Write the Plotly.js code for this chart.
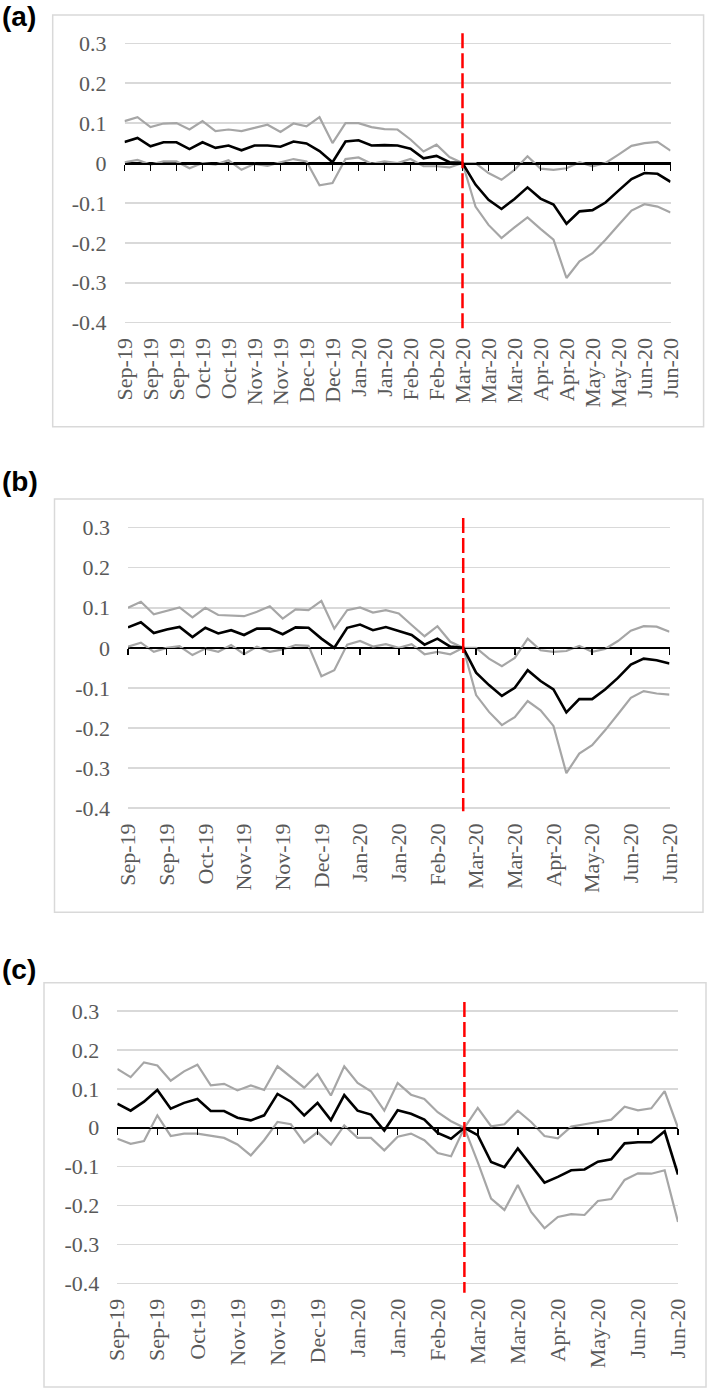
<!DOCTYPE html>
<html>
<head>
<meta charset="utf-8">
<script src="https://cdn.plot.ly/plotly-3.0.1.min.js"></script>
<style>
  html, body { margin: 0; padding: 0; background: #fff; }
  #chart { width: 709px; height: 1389px; }
</style>
</head>
<body>
<div id="chart"></div>
<script>
// Etiquetas del eje x: una cada 2 semanas en (a), cada 3 semanas en (b) y (c)
const labelsA = ['Sep-19', 'Sep-19', 'Sep-19', 'Oct-19', 'Oct-19', 'Nov-19', 'Nov-19', 'Dec-19', 'Dec-19',
    'Jan-20', 'Jan-20', 'Feb-20', 'Feb-20', 'Mar-20', 'Mar-20', 'Mar-20', 'Apr-20', 'Apr-20',
    'May-20', 'May-20', 'Jun-20', 'Jun-20'];
const labelsBC = ['Sep-19', 'Sep-19', 'Oct-19', 'Nov-19', 'Nov-19', 'Dec-19', 'Jan-20', 'Jan-20',
    'Feb-20', 'Mar-20', 'Mar-20', 'Apr-20', 'May-20', 'Jun-20', 'Jun-20'];

const yTicks = [0.3, 0.2, 0.1, 0, -0.1, -0.2, -0.3, -0.4];
const yTickText = ['0.3', '0.2', '0.1', '0', '-0.1', '-0.2', '-0.3', '-0.4'];

// Semana de la línea roja (marzo 2020)
const breakWeek = 26;

// (a) estimación y bandas
const aMid = [0.053, 0.063, 0.042, 0.052, 0.052, 0.035, 0.052, 0.038, 0.044, 0.032,
    0.044, 0.044, 0.041, 0.054, 0.049, 0.030, 0.002, 0.054, 0.057, 0.044,
    0.045, 0.044, 0.036, 0.012, 0.018, 0.002, 0,
    -0.054, -0.092, -0.115, -0.090, -0.061, -0.089, -0.104, -0.152,
    -0.121, -0.118, -0.099, -0.069, -0.040, -0.025, -0.027, -0.047];
const aUpper = [0.105, 0.115, 0.090, 0.099, 0.100, 0.084, 0.105, 0.080, 0.084, 0.080,
    0.088, 0.096, 0.078, 0.099, 0.092, 0.115, 0.050, 0.100, 0.100, 0.090,
    0.085, 0.084, 0.059, 0.029, 0.046, 0.015, 0,
    0, -0.025, -0.042, -0.017, 0.017, -0.014, -0.017, -0.013,
    0.002, -0.008, 0, 0.021, 0.043, 0.050, 0.053, 0.031];
const aLower = [0.002, 0.008, -0.004, 0.004, 0.004, -0.013, 0, -0.004, 0.007, -0.017,
    -0.002, -0.007, 0.002, 0.010, 0.004, -0.056, -0.050, 0.010, 0.014, -0.002,
    0.004, 0, 0.010, -0.008, -0.008, -0.011, 0,
    -0.109, -0.155, -0.188, -0.161, -0.136, -0.165, -0.192, -0.288,
    -0.246, -0.226, -0.192, -0.155, -0.119, -0.103, -0.109, -0.124];

// (b)
const bMid = [0.051, 0.064, 0.037, 0.046, 0.052, 0.027, 0.050, 0.036, 0.044, 0.032,
    0.048, 0.048, 0.034, 0.051, 0.050, 0.023, 0, 0.050, 0.058, 0.044,
    0.052, 0.042, 0.032, 0.008, 0.023, 0.003, 0,
    -0.062, -0.093, -0.120, -0.100, -0.056, -0.083, -0.104, -0.161,
    -0.128, -0.128, -0.104, -0.075, -0.042, -0.027, -0.031, -0.039];
const bUpper = [0.100, 0.115, 0.084, 0.093, 0.101, 0.076, 0.100, 0.082, 0.080, 0.079,
    0.090, 0.104, 0.073, 0.096, 0.094, 0.117, 0.048, 0.094, 0.101, 0.088,
    0.094, 0.086, 0.057, 0.029, 0.054, 0.015, 0,
    0, -0.027, -0.046, -0.025, 0.023, -0.006, -0.010, -0.008,
    0.005, -0.010, -0.003, 0.017, 0.043, 0.054, 0.053, 0.040];
const bLower = [0.003, 0.013, -0.010, 0, 0.004, -0.018, -0.002, -0.010, 0.007, -0.016,
    0.003, -0.010, -0.004, 0.007, 0.005, -0.071, -0.056, 0.008, 0.017, 0.003,
    0.009, 0, 0.009, -0.016, -0.010, -0.016, 0,
    -0.118, -0.160, -0.193, -0.173, -0.133, -0.156, -0.195, -0.313,
    -0.264, -0.243, -0.206, -0.166, -0.125, -0.108, -0.114, -0.117];

// (c)
const cMid = [0.062, 0.044, 0.067, 0.097, 0.049, 0.064, 0.074, 0.043, 0.043, 0.026,
    0.019, 0.032, 0.087, 0.067, 0.032, 0.064, 0.020, 0.084, 0.044, 0.034,
    -0.007, 0.045, 0.036, 0.021, -0.013, -0.028, 0,
    -0.019, -0.088, -0.101, -0.053, -0.098, -0.141, -0.126, -0.109,
    -0.107, -0.087, -0.081, -0.040, -0.037, -0.037, -0.009, -0.120];
const cUpper = [0.151, 0.130, 0.168, 0.160, 0.121, 0.145, 0.162, 0.109, 0.113, 0.096,
    0.109, 0.097, 0.158, 0.130, 0.103, 0.138, 0.083, 0.158, 0.115, 0.094,
    0.044, 0.115, 0.085, 0.074, 0.040, 0.017, 0,
    0.051, 0.004, 0.009, 0.044, 0.015, -0.021, -0.027, 0.003,
    0.009, 0.015, 0.021, 0.054, 0.045, 0.050, 0.094, 0];
const cLower = [-0.028, -0.041, -0.034, 0.032, -0.021, -0.015, -0.015, -0.020, -0.026, -0.043,
    -0.071, -0.032, 0.015, 0.009, -0.038, -0.011, -0.043, 0.006, -0.026, -0.026,
    -0.058, -0.023, -0.015, -0.032, -0.065, -0.073, 0,
    -0.088, -0.182, -0.211, -0.147, -0.216, -0.258, -0.229, -0.222,
    -0.224, -0.188, -0.183, -0.134, -0.117, -0.118, -0.109, -0.242];

const W = 709, H = 1389;
const yRange = [-0.425, 0.33];

// Geometría de cada panel en píxeles (caja, área del gráfico, línea roja)
const panels = [
    { tag: '(a)', mid: aMid, upper: aUpper, lower: aLower, labels: labelsA,
      box: [52.7, 15, 703.6, 426.7], tagY: 16, plotX: [124.5, 670.5], y03: 43.3, y04: 322.7,
      red: [0.325, -0.42] },
    { tag: '(b)', mid: bMid, upper: bUpper, lower: bLower, labels: labelsBC,
      box: [54.5, 499, 703, 912.3], tagY: 482, plotX: [128, 669.5], y03: 527.7, y04: 808,
      red: [0.324, -0.408] },
    { tag: '(c)', mid: cMid, upper: cUpper, lower: cLower, labels: labelsBC,
      box: [44, 982.7, 706, 1387], tagY: 969, plotX: [117.3, 678], y03: 1011, y04: 1283.5,
      red: [0.323, -0.424] }
];

function yDomain(p) {
    const perUnit = (p.y04 - p.y03) / 0.7;
    const top = p.y03 - (yRange[1] - 0.3) * perUnit;
    const bottom = p.y04 + (-0.4 - yRange[0]) * perUnit;
    return [1 - bottom / H, 1 - top / H];
}

const tickFont = { family: 'Liberation Serif, Times New Roman, serif', size: 22, color: '#595959' };

const traces = [];
const layout = {
    width: W,
    height: H,
    margin: { l: 0, r: 0, t: 0, b: 0 },
    paper_bgcolor: '#fff',
    plot_bgcolor: 'rgba(0,0,0,0)',
    showlegend: false,
    font: tickFont,
    shapes: [],
    annotations: []
};

panels.forEach((p, i) => {
    const n = p.mid.length;
    const xs = p.mid.map((_, k) => k);
    const xId = i === 0 ? 'x' : 'x' + (i + 1);
    const yId = i === 0 ? 'y' : 'y' + (i + 1);
    // segundo subplot, misma caja: lleva la línea negra y el eje en cero
    const zx = 'x' + (i + 4), zy = 'y' + (i + 4);
    const step = (n - 1) / (p.labels.length - 1);
    const tickvals = p.labels.map((_, k) => k * step);
    const xd = [p.plotX[0] / W, p.plotX[1] / W];
    const yd = yDomain(p);
    const zeroPos = yd[0] + (0 - yRange[0]) / (yRange[1] - yRange[0]) * (yd[1] - yd[0]);

    // bandas grises
    [p.lower, p.upper].forEach(ys => {
        traces.push({
            x: xs, y: ys, xaxis: xId, yaxis: yId,
            type: 'scatter', mode: 'lines',
            line: { color: '#a6a6a6', width: 2.2 },
            hoverinfo: 'skip'
        });
    });
    // línea central negra
    traces.push({
        x: xs, y: p.mid, xaxis: zx, yaxis: zy,
        type: 'scatter', mode: 'lines',
        line: { color: '#000000', width: 2.6 },
        hoverinfo: 'skip'
    });

    layout['xaxis' + (i === 0 ? '' : i + 1)] = {
        domain: xd, anchor: yId, range: [0, n - 1],
        tickvals: tickvals, ticktext: p.labels, tickangle: -90,
        ticks: '', showline: false, showgrid: false, zeroline: false,
        tickfont: tickFont, ticklabelstandoff: 0
    };
    layout['yaxis' + (i === 0 ? '' : i + 1)] = {
        domain: yd, anchor: xId, range: yRange,
        tickvals: yTicks, ticktext: yTickText,
        showgrid: true, gridcolor: '#d9d9d9', gridwidth: 1.5,
        zeroline: true, zerolinecolor: '#000', zerolinewidth: 1.6,
        showline: false, ticks: '',
        tickfont: tickFont, ticklabelstandoff: 17
    };

    // eje horizontal en y = 0 con marcas hacia abajo (como en Excel)
    layout['xaxis' + (i + 4)] = {
        domain: xd, anchor: 'free', position: zeroPos, range: [0, n - 1],
        showline: true, linecolor: '#000', linewidth: 1.6,
        ticks: 'outside', ticklen: 6, tickwidth: 1.6, tickcolor: '#000',
        tickvals: tickvals, showticklabels: false,
        showgrid: false, zeroline: false
    };
    layout['yaxis' + (i + 4)] = {
        domain: yd, anchor: 'free', position: xd[0], range: yRange,
        visible: false, showgrid: false, zeroline: false
    };

    // línea roja discontinua
    layout.shapes.push({
        type: 'line', xref: xId, yref: yId,
        x0: breakWeek, x1: breakWeek, y0: p.red[0], y1: p.red[1],
        line: { color: '#ff0000', width: 2.5, dash: '15px,5px' }
    });

    // marco del panel
    layout.shapes.push({
        type: 'rect', xref: 'paper', yref: 'paper', layer: 'below',
        x0: p.box[0] / W, x1: p.box[2] / W, y0: 1 - p.box[3] / H, y1: 1 - p.box[1] / H,
        line: { color: '#d9d9d9', width: 1.5 }
    });

    layout.annotations.push({
        text: '<b>' + p.tag + '</b>', xref: 'paper', yref: 'paper',
        x: 0, xanchor: 'left', y: 1 - p.tagY / H, yanchor: 'middle',
        showarrow: false,
        font: { family: 'Liberation Sans, Arial, sans-serif', size: 28, color: '#000' }
    });
});

Plotly.newPlot('chart', traces, layout, { staticPlot: true });
</script>
</body>
</html>
